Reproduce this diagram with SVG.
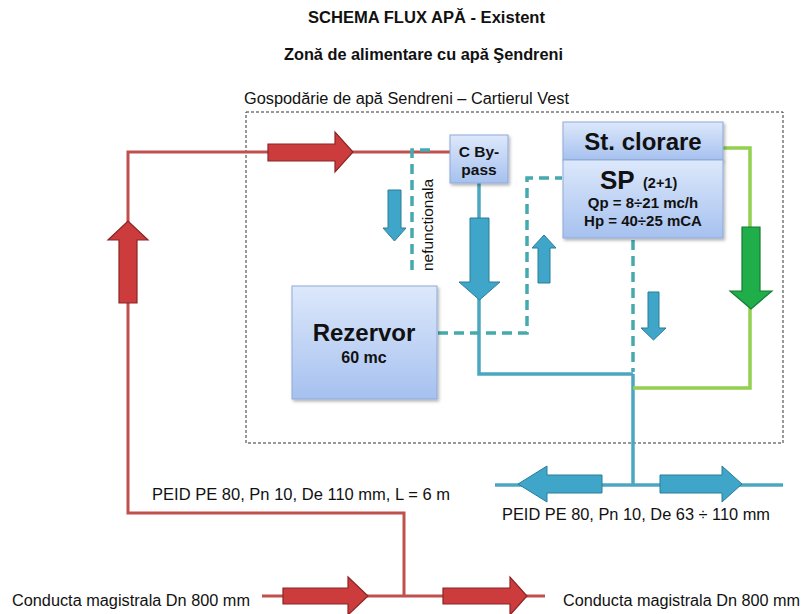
<svg xmlns="http://www.w3.org/2000/svg" width="802" height="614" viewBox="0 0 802 614">
  <defs>
    <linearGradient id="boxFill" x1="0" y1="0" x2="0" y2="1">
      <stop offset="0" stop-color="#dde8fb"/>
      <stop offset="1" stop-color="#a6c1ef"/>
    </linearGradient>
    <filter id="shadow" x="-10%" y="-10%" width="125%" height="125%">
      <feDropShadow dx="1.5" dy="2" stdDeviation="1.5" flood-color="#000" flood-opacity="0.3"/>
    </filter>
  </defs>
  <style>
    text { font-family: "Liberation Sans", Arial, sans-serif; fill: #111; }
    .b { font-weight: bold; }
    .box { fill: url(#boxFill); stroke: #8ea9d8; stroke-width: 1; filter: url(#shadow); }
    .zone { fill: none; stroke: #333; stroke-width: 1; stroke-dasharray: 3 2; }
    .red { fill: none; stroke: #c0504d; stroke-width: 3; }
    .redArrow { fill: #cc3c3c; stroke: #8c2426; stroke-width: 1.2; }
    .teal { fill: none; stroke: #4ba7c0; stroke-width: 3.5; }
    .tealDash { fill: none; stroke: #45a9ad; stroke-width: 3.5; stroke-dasharray: 10 6; }
    .tealArrow { fill: #3fa6c9; stroke: #2b7d97; stroke-width: 1; }
    .green { fill: none; stroke: #92d050; stroke-width: 3.5; }
    .greenArrow { fill: #1fae4a; stroke: #157a33; stroke-width: 1.2; }
  </style>

  <rect width="802" height="614" fill="#fff"/>

  <!-- headings -->
  <text class="b" x="308" y="23" font-size="16" textLength="237" lengthAdjust="spacingAndGlyphs">SCHEMA FLUX APĂ - Existent</text>
  <text class="b" x="284" y="60" font-size="16" textLength="279" lengthAdjust="spacingAndGlyphs">Zonă de alimentare cu apă Şendreni</text>

  <!-- water works enclosure -->
  <g id="zone">
    <rect class="zone" x="246" y="112" width="537" height="331"/>
    <text x="244" y="104" font-size="16" textLength="325" lengthAdjust="spacingAndGlyphs">Gospodărie de apă Sendreni – Cartierul Vest</text>
  </g>

  <g id="connectors">
    <!-- red supply main and branch -->
    <polyline class="red" points="262,596 545,596"/>
    <polyline class="red" points="404,596 404,513 128,513 128,152 450,152"/>
    <!-- teal solid piping -->
    <polyline class="teal" points="479,183 479,374 633,374"/>
    <polyline class="teal" points="633,374 633,485"/>
    <polyline class="teal" points="495,485 783,485"/>
    <!-- green chlorinated line -->
    <polyline class="green" points="723,148 750,148 750,388 633,388"/>
    <!-- teal dashed (out of service) -->
    <polyline class="tealDash" points="430,150 412,150 412,272"/>
    <polyline class="tealDash" points="438,333 527,333 527,178 562,178"/>
    <polyline class="tealDash" points="633,240 633,372"/>

    <!-- flow arrows -->
    <polygon class="redArrow" points="119,303 119,240 108,240 128,221 148,240 137,240 137,303"/>
    <polygon class="redArrow" points="268,144 335,144 335,132 353,152 335,172 335,161 268,161"/>
    <polygon class="redArrow" points="283,588 348,588 348,577 368,596 348,615 348,604 283,604"/>
    <polygon class="redArrow" points="443,588 510,588 510,577 527,596 510,615 510,604 443,604"/>

    <polygon class="tealArrow" points="388,190 401,190 401,228 406,228 394.5,241 383,228 388,228"/>
    <polygon class="tealArrow" points="470,218 489,218 489,282 500,282 479.5,300 459,282 470,282"/>
    <polygon class="tealArrow" points="538,283 550,283 550,248 556,248 544,235 532,248 538,248"/>
    <polygon class="tealArrow" points="648,292 659,292 659,328 666,328 653.5,340 641,328 648,328"/>
    <polygon class="tealArrow" points="602,475 547,475 547,466 518,484 547,502 547,493 602,493"/>
    <polygon class="tealArrow" points="660,475 722,475 722,466 742,484 722,502 722,493 660,493"/>

    <polygon class="greenArrow" points="742,227 760,227 760,291 772,291 751,309 730,291 742,291"/>
  </g>

  <g id="bypass">
    <rect class="box" x="450" y="135" width="58" height="48"/>
    <text class="b" x="479" y="157" font-size="15.5" text-anchor="middle">C By-</text>
    <text class="b" x="479" y="175" font-size="15.5" text-anchor="middle">pass</text>
  </g>

  <g id="chlorination">
    <rect class="box" x="563" y="122" width="160" height="38"/>
    <text class="b" x="643" y="150" font-size="24" text-anchor="middle">St. clorare</text>
  </g>

  <g id="pumps">
    <rect class="box" x="563" y="160" width="160" height="78"/>
    <text class="b" x="600" y="189" font-size="26">SP</text>
    <text class="b" x="643" y="188" font-size="14.5">(2+1)</text>
    <text class="b" x="643" y="208" font-size="15" text-anchor="middle">Qp = 8÷21 mc/h</text>
    <text class="b" x="643" y="226" font-size="15" text-anchor="middle">Hp = 40÷25 mCA</text>
  </g>

  <g id="reservoir">
    <rect class="box" x="292" y="286" width="145" height="113"/>
    <text class="b" x="364" y="341" font-size="24" text-anchor="middle">Rezervor</text>
    <text class="b" x="364" y="363" font-size="16" text-anchor="middle">60 mc</text>
  </g>

  <text x="433" y="225" font-size="15.5" text-anchor="middle" transform="rotate(-90 433 225)">nefunctionala</text>

  <!-- pipe labels -->
  <text x="152" y="500" font-size="16" textLength="298" lengthAdjust="spacingAndGlyphs">PEID PE 80, Pn 10, De 110 mm, L = 6 m</text>
  <text x="502" y="520" font-size="16" textLength="268" lengthAdjust="spacingAndGlyphs">PEID PE 80, Pn 10, De 63 ÷ 110 mm</text>
  <text x="12" y="606" font-size="16" textLength="238" lengthAdjust="spacingAndGlyphs">Conducta magistrala Dn 800 mm</text>
  <text x="563" y="606" font-size="16" textLength="237" lengthAdjust="spacingAndGlyphs">Conducta magistrala Dn 800 mm</text>
</svg>
